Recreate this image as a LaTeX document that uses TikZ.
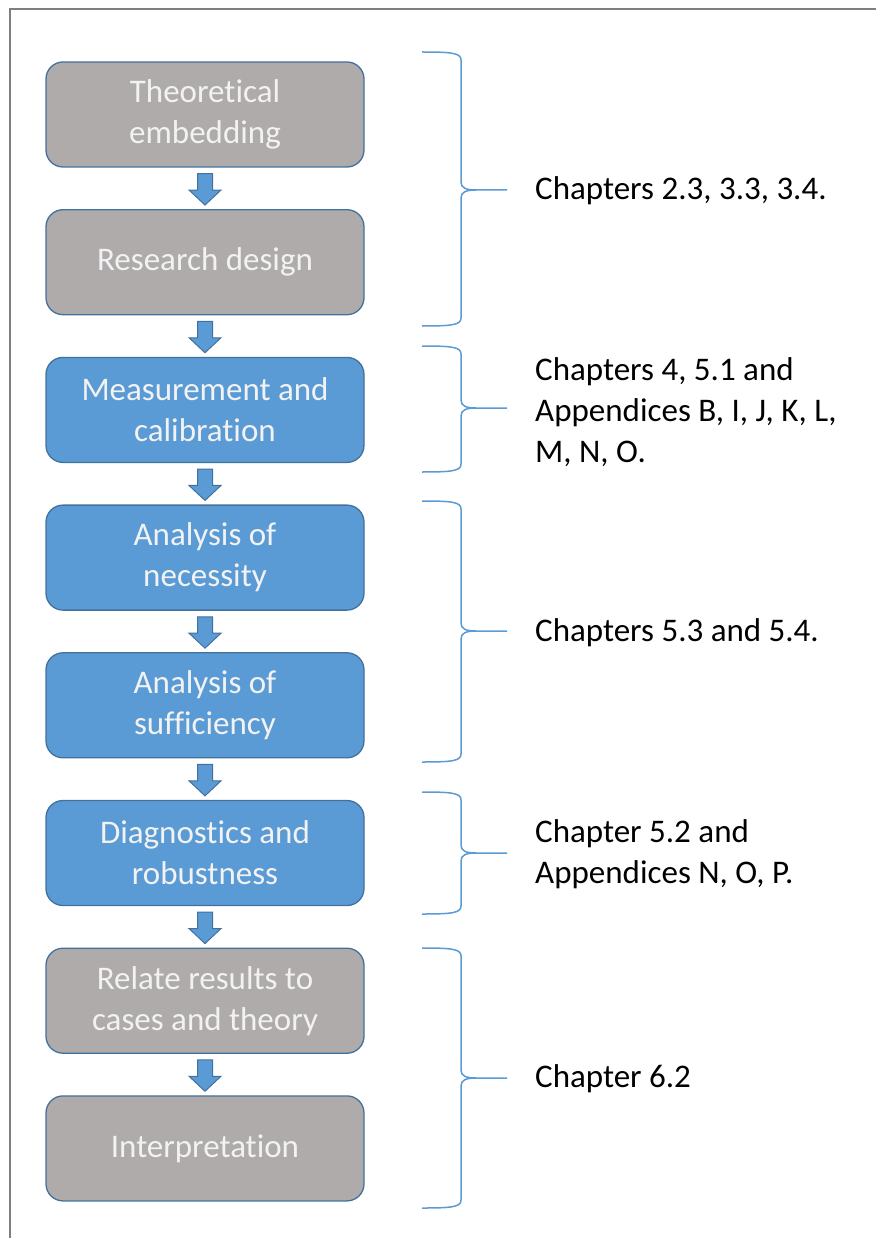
\documentclass[tikz,border=0pt]{standalone}
\usepackage{fontspec}
\setmainfont{Carlito}[Ligatures=NoCommon]
\usetikzlibrary{positioning,calc}

\definecolor{stepgrey}{HTML}{AFABAB}
\definecolor{stepblue}{HTML}{5B9BD5}
\definecolor{stepedge}{HTML}{41719C}
\definecolor{framegrey}{HTML}{7F7F7F}

\begin{document}
\begin{tikzpicture}[x=1pt,y=-1pt,
  stepbox/.style={draw=stepedge,line width=1.3pt,rounded corners=17pt,
    minimum width=318pt,minimum height=105pt,align=center,text=white!95!black,
    font=\fontsize{33}{41}\selectfont},
  greybox/.style={stepbox,fill=stepgrey},
  bluebox/.style={stepbox,fill=stepblue},
  flowarrow/.style={fill=stepblue,draw=stepedge,line width=1pt},
  chapbrace/.style={draw=stepblue,line width=1.5pt},
  chaptext/.style={anchor=west,align=left,inner sep=0pt,
    font=\fontsize{33}{41}\selectfont},
  node distance=41.4pt]

  \useasboundingbox (0,0) rectangle (876,1238);

  % Frame
  \draw[framegrey,line width=2pt] (10,1238) -- (10,9) -- (876,9);

  % Steps
  \node[greybox] (theory) at (205,114.5) {Theoretical\\embedding};
  \node[greybox,below=of theory] (design) {Research design};
  \node[bluebox,below=of design] (measure) {Measurement and\\calibration};
  \node[bluebox,below=of measure] (necessity) {Analysis of\\necessity};
  \node[bluebox,below=of necessity] (sufficiency) {Analysis of\\sufficiency};
  \node[bluebox,below=of sufficiency] (diagnostics) {Diagnostics and\\robustness};
  \node[greybox,below=of diagnostics] (relate) {Relate results to\\cases and theory};
  \node[greybox,below=of relate] (interpret) {Interpretation};

  % Arrows between steps
  \foreach \a/\b in {theory/design,design/measure,measure/necessity,
    necessity/sufficiency,sufficiency/diagnostics,diagnostics/relate,
    relate/interpret} {
    \draw[flowarrow] ($(\a.south)+(-7.5,6)$) -- ($(\a.south)+(7.5,6)$)
      -- ($(\b.north)+(7.5,-19)$) -- ($(\b.north)+(16,-19)$)
      -- ($(\b.north)+(0,-4)$) -- ($(\b.north)+(-16,-19)$)
      -- ($(\b.north)+(-7.5,-19)$) -- cycle;
  }

  % Braces
  \foreach \t/\b/\m in {52/326/190,346/472/408,501/762/631,792/914/853,948/1208/1078} {
    \draw[chapbrace] (422,\t) .. controls (452,\t) and (461,\t+1) .. (461,\t+8)
      -- (461,\m-8) .. controls (461,\m-2) and (466,\m) .. (476,\m) -- (507,\m);
    \draw[chapbrace] (476,\m) .. controls (466,\m) and (461,\m+2) .. (461,\m+8)
      -- (461,\b-8) .. controls (461,\b-1) and (452,\b) .. (422,\b);
  }

  % Chapter references
  \node[chaptext] (chtheory) at (535,191) {Chapters 2.3, 3.3, 3.4.};
  \node[chaptext] (chmeasure) at (535,412) {Chapters 4, 5.1 and\\Appendices B, I, J, K, L,\\M, N, O.};
  \node[chaptext] (chanalysis) at (535,633) {Chapters 5.3 and 5.4.};
  \node[chaptext] (chdiag) at (535,854) {Chapter 5.2 and\\Appendices N, O, P.};
  \node[chaptext] (chrelate) at (535,1079) {Chapter 6.2};

\end{tikzpicture}
\end{document}
